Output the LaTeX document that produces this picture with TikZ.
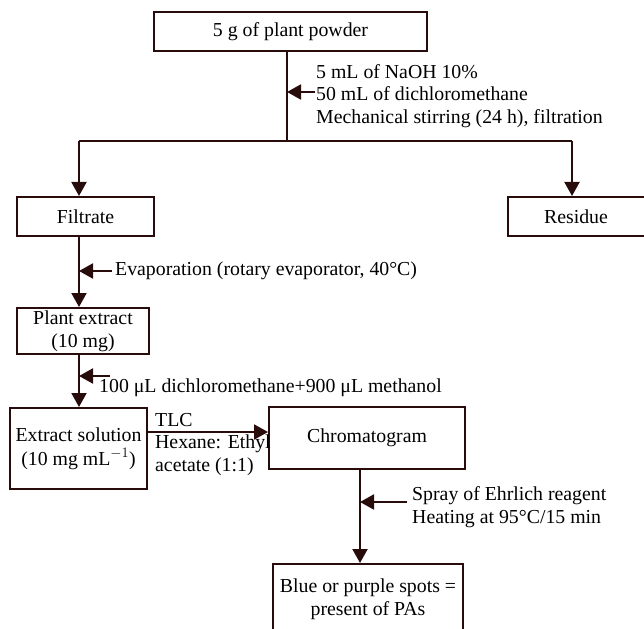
\documentclass[tikz,border=0pt]{standalone}
\usepackage{fontspec}
\setmainfont{Liberation Serif}
\usetikzlibrary{arrows.meta}
\definecolor{ln}{RGB}{40,12,12}
\begin{document}
\begin{tikzpicture}[x=1pt,y=-1pt,
  every node/.style={font=\fontsize{19.8}{22.8}\selectfont, text=black},
  box/.style={draw=ln, line width=2pt, rectangle, inner sep=0pt, align=center},
  conn/.style={draw=ln, line width=2pt},
  arr/.style={conn, -{Triangle[length=14pt,width=15pt]}},
  lbl/.style={inner sep=0pt, anchor=west, align=left}]
\useasboundingbox (0,0) rectangle (644,628);

\node[box, minimum width=273pt, minimum height=39pt] (top) at (290.5,31.5) {5 g of plant powder};
\node[box, minimum width=137pt, minimum height=39pt] (filt) at (85.5,216.5) {Filtrate};
\node[box, minimum width=137pt, minimum height=39pt] (res) at (576,216.5) {Residue};
\node[box, minimum width=132pt, minimum height=46pt] (pe) at (83,331) {Plant extract\\(10 mg)};
\node[box, minimum width=137pt, minimum height=81pt] (es) at (78.5,448.5) {Extract solution\\[1pt](10 mg mL$^{-1}$)};
\node[box, minimum width=196pt, minimum height=62pt] (chr) at (367,438) {Chromatogram};
\node[box, minimum width=190pt, minimum height=70pt] (spots) at (368,599) {Blue or purple spots =\\present of PAs};

\coordinate (j) at (287,141);
\coordinate (jl) at (79,141);
\coordinate (jr) at (572,141);
\draw[conn] (top.south -| j) -- (j);
\draw[conn] (jl) -- (jr);
\draw[arr] (jl) -- (jl |- filt.north);
\draw[arr] (jr) -- (jr |- res.north);
\draw[arr] (filt.south -| jl) -- (pe.north -| jl);
\draw[arr] (pe.south -| jl) -- (es.north -| jl);
\coordinate (ey) at (0,432);
\draw[arr] (es.east |- ey) -- (chr.west |- ey);
\coordinate (cx) at (360,0);
\draw[arr] (chr.south -| cx) -- (spots.north -| cx);

% side arrows
\coordinate (s1) at (315,92);
\coordinate (s2) at (112,271);
\coordinate (s3) at (110,376);
\coordinate (s4) at (407,502);
\draw[arr] (s1) -- (s1 -| j);
\draw[arr] (s2) -- (s2 -| jl);
\draw[arr] (s3) -- (s3 -| jl);
\draw[arr] (s4) -- (s4 -| cx);

\node[lbl] (t1) at (316,96) {5 mL of NaOH 10\%\\50 mL of dichloromethane\\Mechanical stirring (24 h), filtration};
\node[lbl] (t2) at (115,271) {Evaporation (rotary evaporator, 40°C)};
\node[lbl] (t3) at (99,388) {100 μL dichloromethane+900 μL methanol};
\node[lbl] (t4) at (155,444.5) {TLC\\Hexane: Ethyl\\acetate (1:1)};
\node[lbl] (t5) at (412,507.5) {Spray of Ehrlich reagent\\Heating at 95°C/15 min};
\end{tikzpicture}
\end{document}
